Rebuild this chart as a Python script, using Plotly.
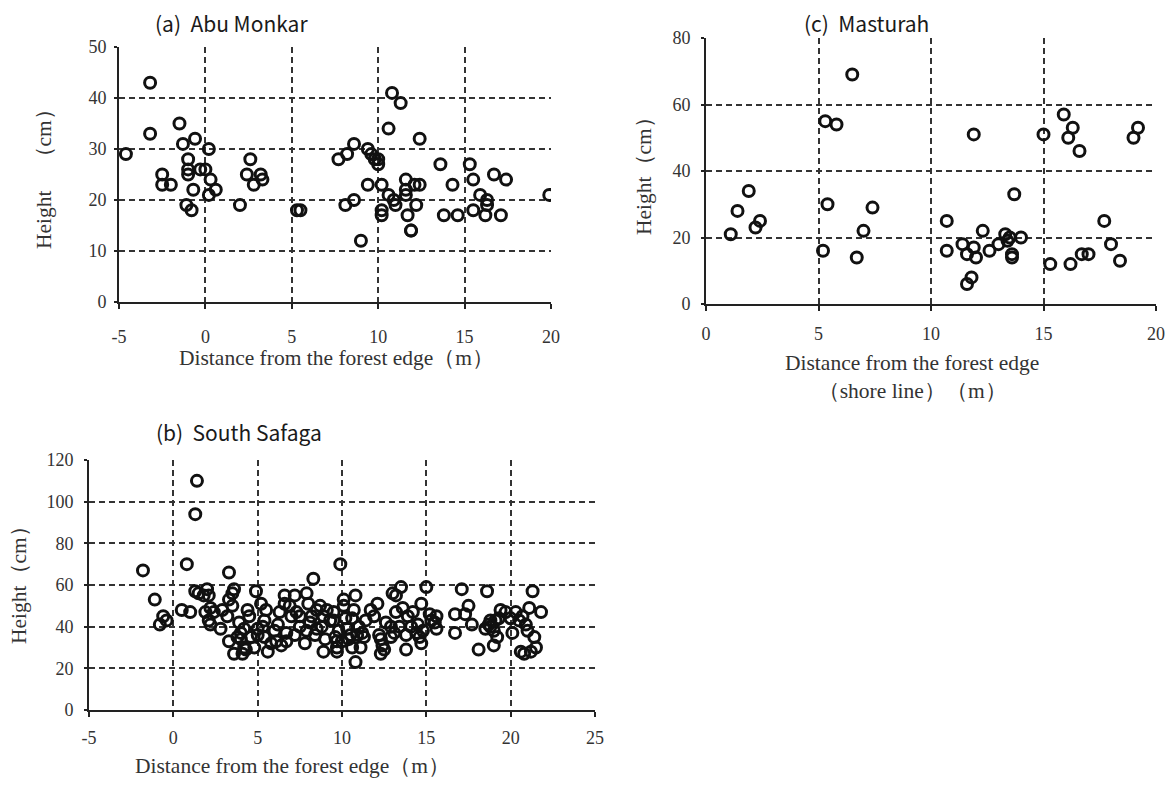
import plotly.graph_objects as go

# ---------------- (a) Abu Monkar ----------------
a_x = [-4.6, -3.2, -3.2, -2.5, -2.5, -2.0, -1.5, -1.3, -1.0, -1.0, -1.0, -1.1, -0.8,
       -0.7, -0.6, -0.3, 0.0, 0.2, 0.3, 0.2, 0.6, 2.0, 2.6, 2.4, 2.8, 3.2, 3.3,
       5.3, 5.5, 7.7, 8.2, 8.6, 8.1, 8.6, 9.0, 9.4, 9.6, 9.8, 10.0, 10.0, 9.4, 10.2,
       10.8, 11.3, 10.6, 10.6, 10.9, 10.2, 10.2, 11.0, 11.6, 11.6, 11.6, 11.7, 11.9,
       12.2, 12.1, 12.4, 12.4, 13.6, 14.3, 13.8, 14.6, 15.3, 15.5, 15.5, 15.9, 16.3,
       16.2, 16.7, 17.1, 17.4, 19.9, 16.3, 11.9]
a_y = [29, 43, 33, 25, 23, 23, 35, 31, 28, 26, 25, 19, 18,
       22, 32, 26, 26, 30, 24, 21, 22, 19, 28, 25, 23, 25, 24,
       18, 18, 28, 29, 31, 19, 20, 12, 30, 29, 28, 27, 28, 23, 23,
       41, 39, 34, 21, 20, 18, 17, 19, 24, 21, 22, 17, 14,
       19, 23, 23, 32, 27, 23, 17, 17, 27, 24, 18, 21, 20,
       17, 25, 17, 24, 21, 19, 14]

# ---------------- (c) Masturah ----------------
c_x = [1.1, 1.4, 1.9, 2.2, 2.4, 5.2, 5.3, 5.8, 5.4, 6.5, 6.7, 7.0, 7.4,
       10.7, 10.7, 11.4, 11.6, 11.6, 11.8, 11.9, 12.0, 11.9, 12.3, 12.6, 13.0,
       13.3, 13.4, 13.5, 13.6, 13.6, 14.0, 13.7, 15.0, 15.3, 15.9, 16.3, 16.1,
       16.6, 16.2, 16.7, 17.0, 17.7, 18.0, 18.4, 19.0, 19.2]
c_y = [21, 28, 34, 23, 25, 16, 55, 54, 30, 69, 14, 22, 29,
       25, 16, 18, 15, 6, 8, 17, 14, 51, 22, 16, 18,
       21, 19, 20, 14, 15, 20, 33, 51, 12, 57, 53, 50,
       46, 12, 15, 15, 25, 18, 13, 50, 53]

# ---------------- (b) South Safaga ----------------
b_x = [-1.8, -1.1, -0.8, -0.6, -0.4, 0.5, 0.8, 1.0, 1.4, 1.3, 1.3, 1.8, 2.0, 2.1,
       1.9, 2.1, 2.2, 2.8, 2.9, 3.3, 3.6, 3.5, 3.3, 3.2, 3.3, 3.6, 4.1, 3.8, 4.4,
       4.5, 4.2, 4.9, 5.2, 5.4, 5.0, 4.8, 5.6, 6.0, 6.1, 6.4, 6.6, 6.6, 6.3, 7.0,
       7.2, 7.2, 7.9, 8.0, 7.9, 7.8, 8.3, 8.2, 8.5, 8.7, 8.9, 9.0, 9.1, 9.5, 9.6,
       9.7, 9.9, 10.1, 10.1, 10.3, 10.5, 10.6, 10.8, 10.7, 11.0, 11.1, 10.8, 11.4,
       11.7, 12.1, 12.3, 12.3, 12.9, 13.0, 13.2, 13.2, 13.5, 13.6, 13.8, 14.1, 14.4,
       14.7, 14.7, 15.0, 15.3, 15.6, 15.6, 16.7, 16.7, 17.1, 17.5, 17.3, 17.7, 18.1,
       18.6, 18.5, 18.8, 19.0, 19.0, 19.4, 19.7, 20.1, 20.3, 20.5, 20.6, 20.8, 21.1,
       21.3, 21.4, 21.8, 21.2,
       3.5, 3.9, 4.0, 4.6, 4.3, 5.3, 5.5, 5.8, 6.2, 6.7, 6.9, 7.5, 8.1, 8.5, 8.8,
       9.3, 9.8, 10.0, 10.2, 10.9, 11.2, 11.9, 12.4, 12.6, 13.4, 13.8, 14.2, 14.8,
       15.2, 18.8, 19.3, 20.9, 21.5,
       1.5, 2.2, 2.4, 4.0, 4.2, 5.0, 5.4, 6.7, 7.5, 7.3, 8.4, 8.9, 9.5, 9.7, 9.7,
       10.4, 10.6, 11.3, 12.2, 12.5, 12.9, 13.1, 13.9, 14.5, 14.6, 15.5, 18.7,
       19.1, 19.2, 20.0, 20.7, 21.0]
b_y = [67, 53, 41, 45, 43, 48, 70, 47, 110, 94, 57, 55, 58, 55,
       47, 43, 41, 39, 48, 66, 58, 56, 53, 45, 33, 27, 27, 35, 48,
       45, 39, 57, 51, 43, 39, 30, 28, 38, 33, 31, 55, 51, 47, 45,
       36, 55, 56, 51, 38, 32, 63, 45, 39, 50, 28, 34, 48, 47, 35,
       30, 70, 53, 50, 39, 36, 30, 55, 48, 40, 30, 23, 43,
       48, 51, 34, 27, 35, 56, 47, 55, 59, 49, 29, 40, 37,
       32, 51, 59, 43, 39, 45, 46, 37, 58, 50, 46, 41, 29,
       57, 39, 43, 38, 31, 48, 47, 37, 47, 43, 28, 27, 49,
       57, 35, 47, 28,
       50, 42, 37, 35, 29, 40, 48, 32, 41, 37, 50, 40, 42, 48, 40,
       43, 38, 33, 44, 36, 37, 45, 31, 42, 40, 36, 47, 38,
       46, 40, 44, 41, 30,
       56, 49, 47, 34, 30, 36, 35, 33, 45, 47, 36, 45, 43, 28, 33,
       34, 44, 35, 36, 29, 40, 37, 45, 41, 35, 42, 41,
       43, 35, 44, 45, 38]

x_ticks_a = [-5, 0, 5, 10, 15, 20]
x_text_a = ["-5", "0", "5", "10", "15", "20"]
x_ticks_b = [-5, 0, 5, 10, 15, 20, 25]
x_text_b = ["-5", "0", "5", "10", "15", "20", "25"]

W, H = 1169, 785


def px2x(p):
    return p / W


def px2y(p):
    return 1 - p / H


fig = go.Figure()
marker = dict(symbol="circle-open", size=11, color="#111111", line=dict(width=3, color="#111111"))
fig.add_trace(go.Scatter(x=a_x, y=a_y, mode="markers", marker=marker, xaxis="x", yaxis="y", showlegend=False))
fig.add_trace(go.Scatter(x=b_x, y=b_y, mode="markers", marker=marker, xaxis="x2", yaxis="y2", showlegend=False))
fig.add_trace(go.Scatter(x=c_x, y=c_y, mode="markers", marker=marker, xaxis="x3", yaxis="y3", showlegend=False))

tickfont = dict(family="Liberation Serif, DejaVu Serif, serif", size=18, color="#333333")
common = dict(showline=True, linecolor="#222222", linewidth=2, mirror=False,
              showgrid=True, gridcolor="#333333", gridwidth=2, griddash="6px,4px",
              zeroline=False, tickfont=tickfont, ticks="outside", tickcolor="#222222",
              tickwidth=1.5, fixedrange=True, automargin=False)

fig.update_layout(
    width=W, height=H, margin=dict(l=0, r=0, t=0, b=0, autoexpand=False),
    paper_bgcolor="white", plot_bgcolor="white", hovermode=False,
    xaxis=dict(domain=[px2x(119), px2x(551)], range=[-5, 20], tickvals=x_ticks_a, ticktext=x_text_a,
               anchor="y", ticklen=5, ticklabelstandoff=12, **common),
    yaxis=dict(domain=[px2y(302), px2y(47)], range=[0, 50], dtick=10, anchor="x",
               ticklen=3, ticklabelstandoff=4, **common),
    xaxis2=dict(domain=[px2x(89), px2x(595)], range=[-5, 25], tickvals=x_ticks_b, ticktext=x_text_b,
                anchor="y2", ticklen=5, ticklabelstandoff=5, **common),
    yaxis2=dict(domain=[px2y(710), px2y(460)], range=[0, 120], dtick=20, anchor="x2",
                ticklen=3, ticklabelstandoff=7, **common),
    xaxis3=dict(domain=[px2x(706), px2x(1156)], range=[0, 20], dtick=5, anchor="y3",
                ticklen=5, ticklabelstandoff=7, **common),
    yaxis3=dict(domain=[px2y(304), px2y(38)], range=[0, 80], dtick=20, anchor="x3",
                ticklen=3, ticklabelstandoff=7, **common),
)

title_font = dict(family="Noto Sans CJK JP, Noto Sans, sans-serif", size=21, color="#1a1a1a")
axis_font = dict(family="Liberation Serif, DejaVu Serif, serif", size=21.5, color="#333333")

ann = []
# panel titles
ann.append(dict(text="(a)  Abu Monkar", x=px2x(231), y=px2y(23), font=title_font))
ann.append(dict(text="(c)  Masturah", x=px2x(866), y=px2y(23), font=title_font))
ann.append(dict(text="(b)  South Safaga", x=px2x(239), y=px2y(432), font=title_font))
# x titles
ann.append(dict(text="Distance from the forest edge（m）", x=px2x(336), y=px2y(358), font=axis_font))
ann.append(dict(text="Distance from the forest edge<br>（shore line）（m）", x=px2x(912), y=px2y(377), font=axis_font))
ann.append(dict(text="Distance from the forest edge（m）", x=px2x(292), y=px2y(766), font=axis_font))
# y titles
ann.append(dict(text="Height　（cm）", x=px2x(44), y=px2y(174), font=axis_font, textangle=-90))
ann.append(dict(text="Height（cm）", x=px2x(644), y=px2y(171), font=axis_font, textangle=-90))
ann.append(dict(text="Height（cm）", x=px2x(19), y=px2y(580), font=axis_font, textangle=-90))

for a in ann:
    a.update(xref="paper", yref="paper", showarrow=False, xanchor="center", yanchor="middle")
fig.update_layout(annotations=ann)

fig.write_html("out.html", config={"displayModeBar": False},
               post_script="document.body.style.margin='0px';document.body.style.overflow='hidden';")
